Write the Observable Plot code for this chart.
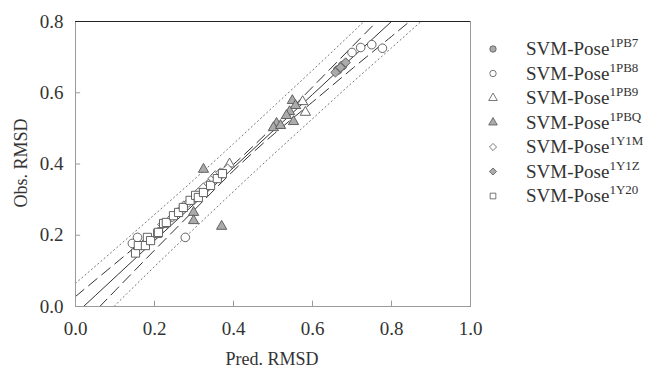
<!DOCTYPE html>
<html><head><meta charset="utf-8">
<script src="https://cdn.jsdelivr.net/npm/d3@7"></script>
<script src="https://cdn.jsdelivr.net/npm/@observablehq/plot@0.6"></script>
<style>body{margin:0;background:#fff}</style>
</head><body><div id="chart"></div><script>
// ---- data ----
const xTicks = [0, 0.2, 0.4, 0.6, 0.8, 1.0];
const yTicks = [0, 0.2, 0.4, 0.6, 0.8];

// regression line and bands
const linePred  = [0, 0.1, 0.2, 0.3, 0.4, 0.5, 0.6, 0.7, 0.8, 0.9, 1.0];
const fitObs    = [-0.021, 0.082, 0.185, 0.287, 0.390, 0.493, 0.595, 0.698, 0.800, 0.903, 1.005];
const confUpper = [0.028, 0.120, 0.212, 0.304, 0.399, 0.504, 0.616, 0.729, 0.842, 0.956, 1.069];
const confLower = [-0.070, 0.044, 0.158, 0.270, 0.381, 0.482, 0.574, 0.667, 0.758, 0.850, 0.941];
const predUpper = [0.065, 0.161, 0.258, 0.356, 0.457, 0.560, 0.663, 0.768, 0.874, 0.981, 1.088];
const predLower = [-0.107, 0.003, 0.112, 0.218, 0.323, 0.426, 0.527, 0.628, 0.726, 0.825, 0.922];

// series
const seriesNames = ["1PB7", "1PB8", "1PB9", "1PBQ", "1Y1M", "1Y1Z", "1Y20"];

const pb7Pred = [0.664, 0.676];
const pb7Obs  = [0.664, 0.676];

const pb8Pred = [0.144, 0.157, 0.278, 0.700, 0.722, 0.750, 0.777];
const pb8Obs  = [0.177, 0.194, 0.194, 0.713, 0.727, 0.735, 0.725];

const pb9Pred = [0.390, 0.575, 0.582];
const pb9Obs  = [0.400, 0.575, 0.545];

const pbqPred = [0.324, 0.299, 0.299, 0.370, 0.549, 0.557, 0.542, 0.534, 0.552, 0.509, 0.501, 0.519];
const pbqObs  = [0.385, 0.264, 0.241, 0.225, 0.578, 0.564, 0.547, 0.536, 0.519, 0.514, 0.502, 0.508];

const y1mPred = [0.210, 0.220, 0.245, 0.260, 0.274, 0.286, 0.301, 0.311, 0.324, 0.337, 0.347, 0.354, 0.367, 0.385];
const y1mObs  = [0.210, 0.230, 0.250, 0.265, 0.283, 0.292, 0.306, 0.320, 0.334, 0.345, 0.359, 0.368, 0.376, 0.387];

const y1zPred = [0.658, 0.671, 0.684];
const y1zObs  = [0.657, 0.671, 0.685];

const y20Pred = [0.152, 0.159, 0.177, 0.182, 0.190, 0.208, 0.210, 0.223, 0.230, 0.248, 0.261, 0.273, 0.290, 0.304, 0.311, 0.324, 0.342, 0.359, 0.372];
const y20Obs  = [0.150, 0.171, 0.171, 0.194, 0.185, 0.205, 0.208, 0.233, 0.236, 0.255, 0.264, 0.278, 0.298, 0.312, 0.306, 0.320, 0.340, 0.359, 0.373];

// ---- build ----
const FONT = '"Liberation Serif", "DejaVu Serif", "Times New Roman", Times, serif';
const rows = (p, o) => p.map((x, i) => ({pred: x, obs: o[i]}));
const lineRows = linePred.map((x, i) => ({pred: x, fit: fitObs[i], cu: confUpper[i], cl: confLower[i], pu: predUpper[i], pl: predLower[i]}));

const GRAYFILL = "#ababab", STROKE = "#555";
const styles = [
  {data: rows(pb7Pred, pb7Obs), symbol: "circle",   r: 4.3, fill: GRAYFILL},
  {data: rows(pb8Pred, pb8Obs), symbol: "circle",   r: 4.3, fill: "#fff"},
  {data: rows(pb9Pred, pb9Obs), symbol: "triangle", r: 3.8, fill: "#fff"},
  {data: rows(pbqPred, pbqObs), symbol: "triangle", r: 3.8, fill: GRAYFILL},
  {data: rows(y1mPred, y1mObs), symbol: "diamond2", r: 4.2, fill: "#fff"},
  {data: rows(y1zPred, y1zObs), symbol: "diamond2", r: 4.2, fill: GRAYFILL},
  {data: rows(y20Pred, y20Obs), symbol: "square",   r: 4.6, fill: "#fff"}
];

const bandLine = (key, dash, color) => Plot.line(lineRows, {x: "pred", y: key, stroke: color, strokeWidth: 1, strokeDasharray: dash, curve: "natural", clip: true});

const chart = Plot.plot({
  width: 649, height: 370,
  marginLeft: 75, marginRight: 179, marginTop: 21, marginBottom: 64,
  style: {fontFamily: FONT, fontSize: "19px", color: "#333", background: "#fff", overflow: "visible"},
  x: {domain: [0, 1]},
  y: {domain: [0, 0.8]},
  marks: [
    Plot.axisX(xTicks, {tickSize: 0, tickPadding: 15, tickFormat: d3.format(".1f"), label: null, fontSize: 19, fill: "#333"}),
    Plot.axisY(yTicks, {tickSize: 0, tickPadding: 12, tickFormat: d3.format(".1f"), label: null, fontSize: 19, fill: "#333"}),
    bandLine("pu", "1.2,3", "#777"),
    bandLine("pl", "1.2,3", "#777"),
    bandLine("cu", "11,6", "#333"),
    bandLine("cl", "11,6", "#333"),
    bandLine("fit", null, "#333"),
    ...styles.map(s => Plot.dot(s.data, {x: "pred", y: "obs", symbol: s.symbol, r: s.r, fill: s.fill, stroke: STROKE, strokeWidth: 0.9})),
    Plot.frame({stroke: "#9a9a9a"}),
    Plot.ruleX([0.2, 0.4, 0.6, 0.8], {y1: 0, y2: 0.015, stroke: "#9a9a9a"}),
    Plot.ruleY([0.2, 0.4, 0.6], {x1: 0, x2: 0.013, stroke: "#9a9a9a"}),
    Plot.ruleY([0.8], {stroke: "#222", strokeWidth: 1.2})
  ]
});

document.getElementById("chart").appendChild(chart);

// axis titles and legend
const svg = d3.select(chart);
svg.append("text").attr("x", 272).attr("y", 365).attr("text-anchor", "middle")
  .attr("font-size", 18).attr("fill", "#333").text("Pred. RMSD");
svg.append("text").attr("transform", "translate(27,163) rotate(-90)").attr("text-anchor", "middle")
  .attr("font-size", 18).attr("fill", "#333").text("Obs. RMSD");

const symMap = {circle: d3.symbolCircle, triangle: d3.symbolTriangle, diamond2: d3.symbolDiamond2, square: d3.symbolSquare};
const leg = svg.append("g");
seriesNames.forEach((name, i) => {
  const y = 49 + i * 24.5;
  const s = styles[i];
  leg.append("path").attr("transform", `translate(493,${y})`)
    .attr("d", d3.symbol(symMap[s.symbol], Math.PI * 3.2 * 3.2)())
    .attr("fill", s.fill).attr("stroke", STROKE).attr("stroke-width", 0.8);
  const t = leg.append("text").attr("x", 526).attr("y", y + 6).attr("text-anchor", "start")
    .attr("font-size", 19).attr("fill", "#333");
  t.append("tspan").text("SVM-Pose");
  t.append("tspan").attr("dy", -8).attr("font-size", 13).text(name);
});
svg.selectAll("text").style("font-family", FONT);
</script></body></html>
